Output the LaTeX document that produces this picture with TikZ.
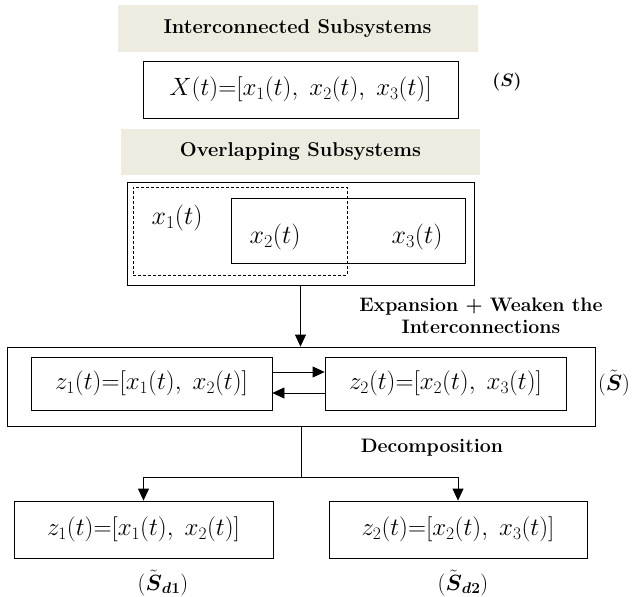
\documentclass[tikz,border=0pt]{standalone}
\usepackage{fix-cm}
\usepackage{amsmath}
\usepackage{fontspec}
\usetikzlibrary{arrows.meta}
\definecolor{bandgray}{RGB}{238,235,224}

\begin{document}
\begin{tikzpicture}
[
	x=1pt,y=-1pt,
	band/.style={fill=bandgray,inner sep=0pt,minimum width=360pt,minimum height=47pt,font=\fontsize{20}{24}\selectfont\bfseries},
	sysbox/.style={draw,inner sep=0pt,font=\fontsize{25}{30}\selectfont},
	subbox/.style={draw,inner sep=0pt},
	vars/.style={font=\fontsize{26}{30}\selectfont},
	steptext/.style={font=\fontsize{19.5}{22}\selectfont\bfseries,align=center},
	syslabel/.style={font=\fontsize{22}{26}\selectfont},
	>={Triangle[length=12pt,width=11pt]},
	line width=0.8pt
]
	\useasboundingbox (0,0) rectangle (633,597);

	\node[band] at (297.5,28.5) (inter) {Interconnected Subsystems};
	\node[sysbox,minimum width=315pt,minimum height=57pt] at (300.5,89.5) (xall) {$X(t){=}[x_1(t),\;x_2(t),\;x_3(t)]$};
	\node[syslabel,font=\fontsize{18}{22}\selectfont] at (507,82) (s) {$\boldsymbol{(S)}$};

	\node[band,minimum width=359pt,minimum height=46pt] at (300.5,152) (over) {Overlapping Subsystems};
	\node[subbox,minimum width=347pt,minimum height=103pt] at (300.5,233.5) (overall) {};
	\node[subbox,dash pattern=on 3pt off 2pt,minimum width=214pt,minimum height=88pt] at (240,231) (grp1) {};
	\node[subbox,minimum width=234pt,minimum height=65pt] at (348,230.5) (grp2) {};
	\node[vars] at (177,218) (x1) {$x_1(t)$};
	\node[vars] at (275,237) (x2) {$x_2(t)$};
	\node[vars] at (417,237) (x3) {$x_3(t)$};

	\node[steptext] at (481,316) (expand) {Expansion + Weaken the\\Interconnections};

	\node[subbox,minimum width=588pt,minimum height=79pt] at (301,386.5) (exp) {};
	\node[sysbox,minimum width=241pt,minimum height=53pt] at (151.5,383.5) (z1) {$z_1(t){=}[x_1(t),\;x_2(t)]$};
	\node[sysbox,minimum width=241pt,minimum height=53pt] at (445.5,383.5) (z2) {$z_2(t){=}[x_2(t),\;x_3(t)]$};
	\node[syslabel] at (614,383) (st) {$(\tilde{\boldsymbol{S}})$};

	\draw[->] (overall.south) -- (overall.south |- exp.north);
	\draw[->] ([yshift=11.5pt]z1.east) -- ([yshift=11.5pt]z2.west);
	\draw[->] ([yshift=-9.5pt]z2.west) -- ([yshift=-9.5pt]z1.east);

	\node[steptext] at (432,448) (decomp) {Decomposition};
	\node[sysbox,minimum width=259pt,minimum height=57pt] at (143.5,529.5) (d1) {$z_1(t){=}[x_1(t),\;x_2(t)]$};
	\node[sysbox,minimum width=258pt,minimum height=57pt] at (458,529.5) (d2) {$z_2(t){=}[x_2(t),\;x_3(t)]$};
	\node[syslabel] at (163,583) (sd1) {$(\tilde{\boldsymbol{S}}_{\boldsymbol{d1}})$};
	\node[syslabel] at (463,583) (sd2) {$(\tilde{\boldsymbol{S}}_{\boldsymbol{d2}})$};

	\coordinate (split) at (301,477);
	\draw (exp.south) -- (split);
	\draw[->] (split) -| (d1);
	\draw[->] (split) -| (d2);

\end{tikzpicture}
\end{document}
